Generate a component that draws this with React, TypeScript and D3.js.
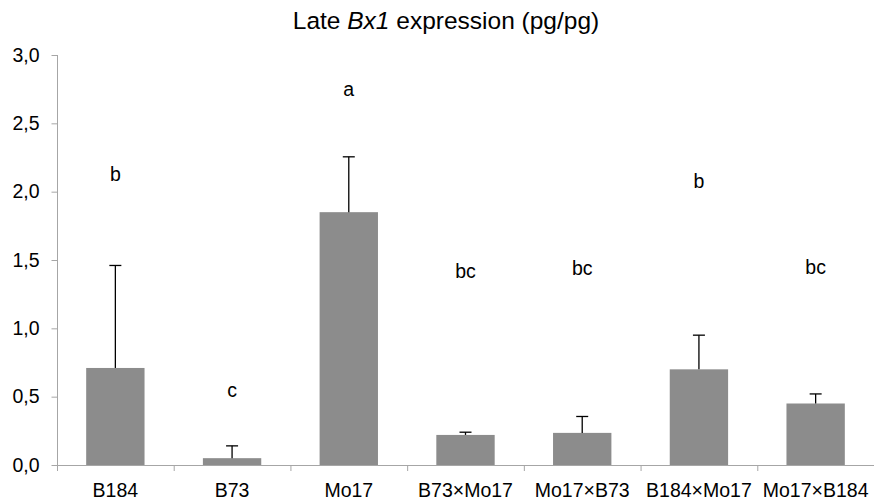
import React, { useEffect, useRef } from 'react';
import * as d3 from 'd3';

const categories = ['B184', 'B73', 'Mo17', 'B73×Mo17', 'Mo17×B73', 'B184×Mo17', 'Mo17×B184'];
const means = [0.71, 0.05, 1.85, 0.22, 0.235, 0.70, 0.45];
const errorTops = [1.46, 0.14, 2.255, 0.24, 0.355, 0.95, 0.52];
const letters = ['b', 'c', 'a', 'bc', 'bc', 'b', 'bc'];
const letterLevels = [2.13, 0.55, 2.75, 1.42, 1.44, 2.08, 1.45];
const yTicks = [0, 0.5, 1.0, 1.5, 2.0, 2.5, 3.0];

const App = () => {
  const ref = useRef<SVGSVGElement>(null);

  useEffect(() => {
    const width = 874;
    const height = 504;
    const margin = { top: 55, right: 0, bottom: 39, left: 57 };
    const font = '"Liberation Sans", Arial, sans-serif';
    const axisColor = '#a6a6a6';
    const fs = 19.5;

    const svg = d3.select(ref.current);
    svg.selectAll('*').remove();

    const x = d3
      .scaleBand()
      .domain(categories)
      .range([margin.left, width - margin.right])
      .paddingInner(0.5)
      .paddingOuter(0.25);

    const band = d3
      .scaleBand()
      .domain(categories)
      .range([margin.left, width - margin.right]);

    const y = d3.scaleLinear().domain([0, 3]).range([height - margin.bottom, margin.top]);

    const data = categories.map((c, i) => ({
      c,
      m: means[i],
      e: errorTops[i],
      l: letters[i],
      ly: letterLevels[i],
    }));

    // bars
    svg
      .append('g')
      .selectAll('rect')
      .data(data)
      .join('rect')
      .attr('x', d => x(d.c)!)
      .attr('y', d => y(d.m))
      .attr('width', x.bandwidth())
      .attr('height', d => y(0) - y(d.m))
      .attr('fill', '#8c8c8c');

    // error bars
    const err = svg.append('g').attr('stroke', '#000').attr('stroke-width', 1.3);
    data.forEach(d => {
      const cx = x(d.c)! + x.bandwidth() / 2;
      err
        .append('line')
        .attr('x1', cx)
        .attr('x2', cx)
        .attr('y1', y(d.m))
        .attr('y2', y(d.e));
      err
        .append('line')
        .attr('x1', cx - 6)
        .attr('x2', cx + 6)
        .attr('y1', y(d.e))
        .attr('y2', y(d.e));
    });

    // significance letters
    svg
      .append('g')
      .selectAll('text')
      .data(data)
      .join('text')
      .attr('x', d => x(d.c)! + x.bandwidth() / 2)
      .attr('y', d => y(d.ly))
      .attr('dy', '0.35em')
      .attr('text-anchor', 'middle')
      .attr('font-family', font)
      .attr('font-size', fs)
      .text(d => d.l);

    // y axis
    const yAxis = svg
      .append('g')
      .attr('transform', `translate(${margin.left},0)`)
      .call(d3.axisLeft(y).tickValues(yTicks).tickSize(5.5).tickPadding(12).tickFormat(d => d3.format('.1f')(d as number).replace('.', ',')));
    yAxis.select('.domain').attr('stroke', axisColor).attr('d', `M0.5,${y(3)}V${y(0)}`);
    yAxis.selectAll('.tick line').attr('stroke', axisColor);
    yAxis.selectAll('.tick text').attr('font-family', font).attr('font-size', fs).attr('fill', '#000');

    // x axis
    const xAxis = svg
      .append('g')
      .attr('transform', `translate(0,${y(0)})`)
      .call(d3.axisBottom(band).tickSize(0).tickPadding(0));
    xAxis.select('.domain').attr('stroke', axisColor).attr('d', `M${margin.left},0.5H${width}`);
    xAxis.selectAll('.tick text').attr('font-family', font).attr('font-size', fs).attr('fill', '#000').attr('dy', 0).attr('y', 31.5);
    xAxis
      .append('g')
      .selectAll('line')
      .data(categories)
      .join('line')
      .attr('x1', d => band(d)! + 0.5)
      .attr('x2', d => band(d)! + 0.5)
      .attr('y1', 0)
      .attr('y2', 6)
      .attr('stroke', axisColor);

    // title
    const title = svg
      .append('text')
      .attr('x', 446)
      .attr('y', 29)
      .attr('text-anchor', 'middle')
      .attr('font-family', font)
      .attr('font-size', 24.5);
    title.append('tspan').text('Late ');
    title.append('tspan').attr('font-style', 'italic').text('Bx1');
    title.append('tspan').text(' expression (pg/pg)');
  }, []);

  return (
    <svg
      ref={ref}
      width={874}
      height={504}
      style={{ position: 'absolute', left: 0, top: 0, background: '#fff' }}
    ></svg>
  );
};

export default App;
